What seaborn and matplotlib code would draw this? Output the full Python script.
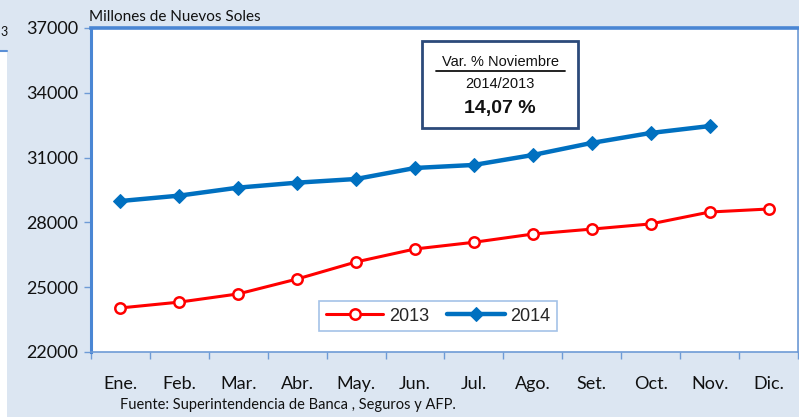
import matplotlib
matplotlib.use("Agg")
import matplotlib.pyplot as plt
import seaborn as sns
import pandas as pd
import numpy as np
from matplotlib.patches import FancyBboxPatch, Rectangle
from matplotlib.lines import Line2D
from matplotlib.ticker import FixedLocator

months = ["Ene.", "Feb.", "Mar.", "Abr.", "May.", "Jun.", "Jul.", "Ago.", "Set.", "Oct.", "Nov.", "Dic."]
v2013 = [24040, 24310, 24690, 25380, 26170, 26770, 27080, 27460, 27690, 27930, 28480, 28620]
v2014 = [28990, 29240, 29610, 29840, 30010, 30520, 30660, 31120, 31680, 32140, 32460, np.nan]
yticks = [22000, 25000, 28000, 31000, 34000, 37000]

sns.set_theme(style="white")
plt.rcParams['font.family'] = ['Lato', 'DejaVu Sans']

W, H = 799, 417
fig = plt.figure(figsize=(W / 100, H / 100), dpi=100)
fig.patch.set_facecolor("white")
bg = "#dce6f2"

def fx(x):
    return x / W

def fy(y):
    return 1 - y / H

# background
fig.patches.append(FancyBboxPatch((7 / 100, -0.5), 9.0, 10.0, boxstyle="round,pad=0,rounding_size=0.22",
                                  transform=fig.dpi_scale_trans, facecolor=bg, edgecolor="none", zorder=-2))
fig.patches.append(Rectangle((0, fy(51)), fx(8), 1 - fy(51), transform=fig.transFigure,
                             facecolor=bg, edgecolor="none", zorder=-2))
fig.lines.append(Line2D([0, fx(7)], [fy(51), fy(51)], transform=fig.transFigure, color="#5b8fd6", lw=1.5, zorder=-1))
fig.text(fx(0), fy(32), "3", fontsize=9, va="center", ha="left", color="#111111")

L, R, T, B = 91, 798, 28, 352
ax = fig.add_axes([fx(L), fy(B), fx(R - L), (B - T) / H])
ax.set_zorder(1)
ax.set_facecolor("white")

x = np.arange(12)
df13 = pd.DataFrame({"x": x, "v": v2013})
df14 = pd.DataFrame({"x": x, "v": v2014})
sns.lineplot(data=df13, x="x", y="v", ax=ax, color="#ff0000", lw=2.2, marker="o", markersize=7.5,
             markerfacecolor="white", markeredgecolor="#ff0000", markeredgewidth=1.8, label="2013", zorder=3)
sns.lineplot(data=df14, x="x", y="v", ax=ax, color="#0070c0", lw=3.2, marker="D", markersize=7.5,
             markerfacecolor="#0070c0", markeredgecolor="#0070c0", label="2014", zorder=4)

ax.set_xlim(-0.5, 11.5)
ax.set_ylim(22000, 37000)
ax.set_xlabel("")
ax.set_ylabel("")
ax.set_yticks(yticks)
ax.set_yticklabels([str(v) for v in yticks], fontsize=13, color="#111111")
ax.set_xticks(x)
ax.set_xticklabels(months, fontsize=13, color="#111111")
ax.xaxis.set_minor_locator(FixedLocator(np.arange(-0.5, 12, 1)))
ax.tick_params(axis="x", which="major", length=0, pad=17)
ax.tick_params(axis="x", which="minor", length=5, width=1, color="#6e9bd6", direction="out", bottom=True)
ax.tick_params(axis="y", which="major", length=5, width=1, color="#6e9bd6", direction="out", left=True, pad=4)

for side in ["left", "bottom", "right", "top"]:
    ax.spines[side].set_visible(True)
    ax.spines[side].set_color("#6e9bd6")
ax.spines["left"].set_linewidth(2.2)
ax.spines["left"].set_color("#4a86d4")
ax.spines["top"].set_linewidth(2.6)
ax.spines["top"].set_color("#4a86d4")
ax.spines["bottom"].set_linewidth(1.2)
ax.spines["right"].set_linewidth(1.2)

leg = ax.legend(loc="lower center", bbox_to_anchor=((438 - L) / (R - L), (B - 340) / (B - T)),
                ncol=2, frameon=True, fancybox=False, handlelength=3.2, columnspacing=1.0,
                handletextpad=0.3, borderpad=0.35, prop={"family": "Liberation Sans", "size": 13})
leg.get_frame().set_edgecolor("#8db3e2")
leg.get_frame().set_linewidth(1.2)

# annotation box
fig.patches.append(Rectangle((fx(422), fy(128)), fx(578 - 422), (128 - 41) / H, transform=fig.transFigure,
                             facecolor="white", edgecolor="#2c4a7a", lw=2, zorder=5))
fig.text(fx(500), fy(62), "Var. % Noviembre", ha="center", va="center", fontsize=10.5,
         family="Liberation Sans", color="#111111", zorder=6)
fig.lines.append(Line2D([fx(436), fx(565)], [fy(71), fy(71)], transform=fig.transFigure, color="#111111", lw=1.3, zorder=6))
fig.text(fx(500), fy(84), "2014/2013", ha="center", va="center", fontsize=10.5,
         family="Liberation Sans", color="#111111", zorder=6)
fig.text(fx(500), fy(108), "14,07 %", ha="center", va="center", fontsize=14, fontweight="bold",
         family="Liberation Sans", color="#111111", zorder=6)

fig.text(fx(89), fy(17), "Millones de Nuevos Soles", ha="left", va="center", fontsize=11, color="#111111")
fig.text(fx(120), fy(405), "Fuente: Superintendencia de Banca , Seguros y AFP.", ha="left", va="center",
         fontsize=10.5, color="#111111")

fig.savefig("out.png", dpi=100, facecolor=fig.get_facecolor())
